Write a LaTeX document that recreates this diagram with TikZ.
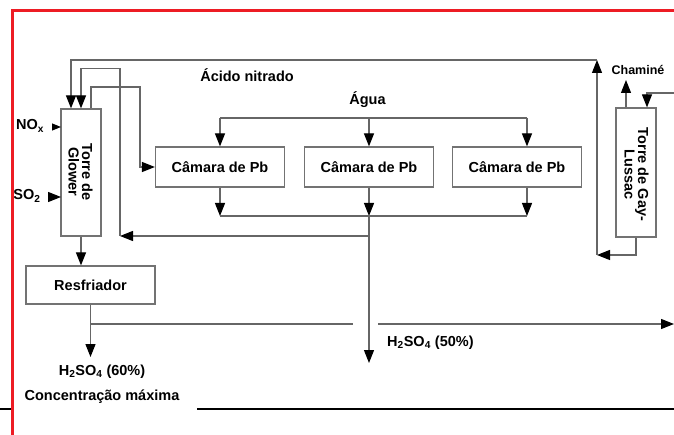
\documentclass[tikz,border=0pt]{standalone}
\usepackage{fontspec}
\setmainfont{Liberation Sans}
\usetikzlibrary{arrows.meta}
\definecolor{redb}{RGB}{237,28,36}
\begin{document}
\begin{tikzpicture}[x=1pt,y=-1pt,
  ln/.style={draw=black!60, line width=1.1pt},
  arr/.style={ln, -{Triangle[length=13pt,width=10pt,color=black]}},
  arrS/.style={ln, -{Triangle[length=9pt,width=7pt,color=black]}},
  arrM/.style={ln, -{Triangle[length=13pt,width=10pt,color=black]}},
  box/.style={draw=black!55, line width=1.2pt, fill=white, font=\bfseries\fontsize{14.5}{16}\selectfont, inner sep=0pt},
  lbl/.style={font=\bfseries\fontsize{14.5}{16}\selectfont, inner sep=0pt},
  rot/.style={inner sep=0pt, rotate=-90, align=center, font=\bfseries\fontsize{14.5}{13.5}\selectfont}
]
\useasboundingbox (0,0) rectangle (674,435);
\fill[white] (0,0) rectangle (674,435);

% boxes
\node[box, minimum width=40pt, minimum height=127pt] (glower) at (81,172.5) {};
\node[rot] (glowert) at (80.5,172) {Torre de\\Glower};
\node[box, minimum width=40pt, minimum height=129pt] (gay) at (636,172.5) {};
\node[rot] (gayt) at (636.5,174.5) {Torre de Gay-\\Lussac};
\node[box, minimum width=129pt, minimum height=40pt] (c1) at (220,167) {Câmara de Pb};
\node[box, minimum width=129pt, minimum height=40pt] (c2) at (369,167) {Câmara de Pb};
\node[box, minimum width=129pt, minimum height=40pt] (c3) at (517,167) {Câmara de Pb};
\node[box, minimum width=129pt, minimum height=38pt] (resf) at (90.5,285) {Resfriador};

% labels
\node[lbl] (acido) at (247,75) {Ácido nitrado};
\node[lbl] (agua) at (367.5,100) {Água};
\node[lbl, font=\bfseries\fontsize{12.5}{14}\selectfont] (chamine) at (638,70) {Chaminé};
\node[lbl] (nox) at (30,126) {NO\textsubscript{x}};
\node[lbl] (so2) at (27,196) {SO\textsubscript{2}};
\node[lbl] (h60) at (102,372) {H\textsubscript{2}SO\textsubscript{4} (60\%)};
\node[lbl] (conc) at (102,397) {Concentração máxima};
\node[lbl, anchor=west] (h50) at (387,343) {H\textsubscript{2}SO\textsubscript{4} (50\%)};

% coordinates
\coordinate (gl1) at (597,255);
\coordinate (gl2) at (597,60);
\coordinate (ret) at (120,236);
\coordinate (j1) at (369,236);
\coordinate (k1) at (140,87);
\coordinate (wa) at (220,118);
\coordinate (wb) at (527,118);
\coordinate (ba) at (220,216);
\coordinate (bb) at (527,216);
\coordinate (out50) at (369,363);
\coordinate (out60) at (90.5,357);
\coordinate (br) at (90.5,324);
\coordinate (gapL) at (353,324);
\coordinate (gapR) at (378,324);
\coordinate (outR) at (674,324);
\coordinate (noxin) at (61,127);
\coordinate (so2in) at (61,197);
\coordinate (gayin) at (647,93);
\coordinate (gayinR) at (674,93);
\coordinate (chim) at (626,80);

% connectors
\draw[arr] (gay.south) |- (gl1);
\draw[arr] (gl1) -- (gl2);
\draw[arr] (gl2) -| ([xshift=-10pt]glower.north);
\draw[arr] (j1) -- (ret);
\draw[arr] (ret) |- ([yshift=40pt]glower.north) -- (glower.north);
\draw[arr] ([xshift=10pt]glower.north) |- (k1) |- (c1.west);
\draw[ln] (wa) -- (wb);
\draw[arr] (wa) -- (c1.north);
\draw[arr] (c2.north |- wa) -- (c2.north);
\draw[arr] (wb) -- (wb |- c3.north);
\draw[arr] (c1.south) -- (ba);
\draw[arr] (c2.south) -- (c2.south |- ba);
\draw[arr] (bb |- c3.south) -- (bb);
\draw[ln] (ba) -- (bb);
\draw[arr] (c2.south |- ba) -- (out50);
\draw[arr] (glower.south) -- (glower.south |- resf.north);
\draw[arr] (resf.south) -- (out60);
\draw[ln] (br) -- (gapL);
\draw[arr] (gapR) -- (outR);
\draw[arrS] ([xshift=-9pt]noxin) -- (noxin);
\draw[arrM] ([xshift=-13pt]so2in) -- (so2in);
\draw[arr] (gay.north -| chim) -- (chim);
\draw[arr] (gayinR) -- (gayin) -- (gayin |- gay.north);

% frame lines
\draw[black, line width=1.2pt] (0,409) -- (11,409);
\draw[black, line width=1.2pt] (197,409) -- (674,409);
\draw[redb, line width=3pt] (12,435) -- (12,11) -- (674,11);
\end{tikzpicture}
\end{document}
